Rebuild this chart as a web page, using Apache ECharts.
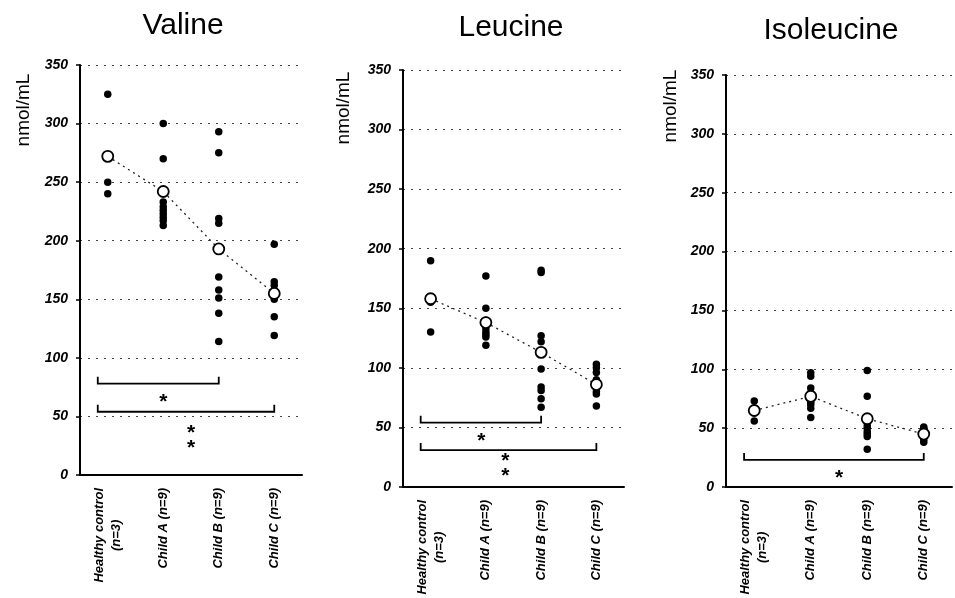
<!DOCTYPE html>
<html>
<head>
<meta charset="utf-8">
<script src="https://cdn.jsdelivr.net/npm/echarts@6/dist/echarts.min.js"></script>
<style>
html,body{margin:0;padding:0;background:#fff;}
#chart{width:955px;height:598px;}
</style>
</head>
<body>
<div id="chart"></div>
<script>
// ---- data ----
var categories = ['Healthy control\n(n=3)', 'Child A (n=9)', 'Child B (n=9)', 'Child C (n=9)'];
var yTicks = [0, 50, 100, 150, 200, 250, 300, 350];
var titles = ['Valine', 'Leucine', 'Isoleucine'];
var yTitle = 'nmol/mL';

var valineHealthy = [325, 250, 240];
var valineA = [300, 270, 233, 229, 226, 223, 220, 217, 213];
var valineB = [293, 275, 219, 215, 169, 158, 151, 138, 114];
var valineC = [197, 165, 162, 158, 155, 152, 150, 135, 119];
var valineMean = [272, 242, 193, 155];
var valineBrackets = [[0, 2, 78], [0, 3, 54]];
var valineStars = [[1, 66], [1.5, 40], [1.5, 27]];

var leucineHealthy = [190, 155, 130];
var leucineA = [177, 150, 140, 136, 133, 130, 128, 126, 119];
var leucineB = [182, 180, 127, 122, 99, 84, 81, 74, 67];
var leucineC = [103, 100, 96, 90, 85, 83, 80, 78, 68];
var leucineMean = [158, 138, 113, 86];
var leucineBrackets = [[0, 2, 54], [0, 3, 31]];
var leucineStars = [[0.92, 43], [1.35, 26], [1.35, 13]];

var isoHealthy = [73, 63, 56];
var isoA = [97, 94, 84, 80, 76, 72, 70, 67, 59];
var isoB = [99, 77, 55, 52, 50, 47, 45, 43, 32];
var isoC = [51, 50, 48, 46, 45, 44, 43, 40, 38];
var isoMean = [65, 77, 58, 45];
var isoBrackets = [[0, 3, 23]];
var isoStars = [[1.5, 12]];

var panels = [
  {groups: [valineHealthy, valineA, valineB, valineC], mean: valineMean, brackets: valineBrackets, stars: valineStars},
  {groups: [leucineHealthy, leucineA, leucineB, leucineC], mean: leucineMean, brackets: leucineBrackets, stars: leucineStars},
  {groups: [isoHealthy, isoA, isoB, isoC], mean: isoMean, brackets: isoBrackets, stars: isoStars}
];

// ---- layout ----
var gridBoxes = [
  {left: 80, top: 65, width: 222, height: 410},
  {left: 403, top: 70, width: 221, height: 417},
  {left: 726, top: 75, width: 226, height: 412}
];
var titlePos = [[178, 6], [506, 8], [826, 11]];
var yTitlePos = [[24, 110], [344, 108], [671, 106]];

var FONT = '"Liberation Sans", Arial, sans-serif';

var option = {
  backgroundColor: '#ffffff',
  animation: false,
  title: [],
  grid: [],
  xAxis: [],
  yAxis: [],
  series: [],
  graphic: []
};

function catLabel(v) {
  var parts = v.split('\n');
  if (parts.length === 1) return '{a|' + v + '}';
  return '{a|' + parts[0] + '}\n{b|' + parts[1] + '}';
}

panels.forEach(function (p, i) {
  option.title.push({
    text: titles[i], left: titlePos[i][0], top: titlePos[i][1], textAlign: 'center',
    textStyle: {fontFamily: FONT, fontSize: 30, fontWeight: 'normal', color: '#000'}
  });
  option.graphic.push({
    type: 'text', x: yTitlePos[i][0], y: yTitlePos[i][1], rotation: Math.PI / 2,
    style: {text: yTitle, font: '19px ' + FONT, fill: '#000', align: 'center', verticalAlign: 'middle'}
  });
  option.grid.push(Object.assign({containLabel: false}, gridBoxes[i]));
  var lblStyle = {color: '#000', fontFamily: FONT, fontSize: 13, fontWeight: 'bold', fontStyle: 'italic', lineHeight: 17};
  option.xAxis.push({
    type: 'category', gridIndex: i, data: categories, boundaryGap: true,
    axisLine: {onZero: false, lineStyle: {color: '#000', width: 2}},
    axisTick: {length: 4, lineStyle: {color: '#000', width: 1.5}},
    axisLabel: {rotate: 90, margin: 13, interval: 0, align: 'right', formatter: catLabel,
      color: '#000', fontFamily: FONT, fontSize: 13, fontWeight: 'bold', fontStyle: 'italic', lineHeight: 17,
      rich: {a: Object.assign({align: 'right'}, lblStyle), b: Object.assign({align: 'center'}, lblStyle)}},
    splitLine: {show: false}
  });
  option.xAxis.push({
    type: 'value', gridIndex: i, min: -0.5, max: 3.5, show: false,
    axisLine: {onZero: false}
  });
  option.yAxis.push({
    type: 'value', gridIndex: i, min: yTicks[0], max: yTicks[yTicks.length - 1], interval: 50,
    axisLine: {show: true, onZero: false, lineStyle: {color: '#000', width: 2}},
    axisTick: {show: true, length: 4, lineStyle: {color: '#000', width: 1.5}},
    axisLabel: {margin: 12, color: '#000', fontFamily: FONT, fontSize: 14,
      fontWeight: 'bold', fontStyle: 'italic'},
    splitLine: {show: true, lineStyle: {color: '#444', width: 1, type: [2, 6]}}
  });
  var catAxis = i * 2, valAxis = i * 2 + 1;
  var pts = [];
  p.groups.forEach(function (g, gi) { g.forEach(function (v) { pts.push([gi, v]); }); });
  option.series.push({
    type: 'scatter', xAxisIndex: catAxis, yAxisIndex: i, data: pts,
    symbol: 'circle', symbolSize: 7.5, itemStyle: {color: '#000', opacity: 1}, z: 3
  });
  option.series.push({
    type: 'line', xAxisIndex: catAxis, yAxisIndex: i,
    data: p.mean.map(function (v, k) { return [k, v]; }),
    showSymbol: true, symbol: 'circle', symbolSize: 11,
    itemStyle: {color: '#fff', borderColor: '#000', borderWidth: 1.8, opacity: 1},
    lineStyle: {color: '#222', width: 1.3, type: [2, 4]}, z: 4
  });
  option.series.push({
    type: 'custom', xAxisIndex: valAxis, yAxisIndex: i, data: p.brackets, z: 5,
    renderItem: function (params, api) {
      var a = api.coord([api.value(0) - 0.18, api.value(2)]);
      var b = api.coord([api.value(1) + 0.0, api.value(2)]);
      return {
        type: 'polyline',
        shape: {points: [[a[0], a[1] - 7], [a[0], a[1]], [b[0], b[1]], [b[0], b[1] - 7]]},
        style: {stroke: '#000', lineWidth: 1.8, fill: null}
      };
    }
  });
  option.series.push({
    type: 'custom', xAxisIndex: valAxis, yAxisIndex: i, data: p.stars, z: 5,
    renderItem: function (params, api) {
      var c = api.coord([api.value(0), api.value(1)]);
      return {
        type: 'text', x: c[0], y: c[1] + 5,
        style: {text: '*', font: 'bold 21px ' + FONT, fill: '#000', align: 'center', verticalAlign: 'middle'}
      };
    }
  });
});

var chart = echarts.init(document.getElementById('chart'), null, {renderer: 'canvas'});
chart.setOption(option);
</script>
</body>
</html>
